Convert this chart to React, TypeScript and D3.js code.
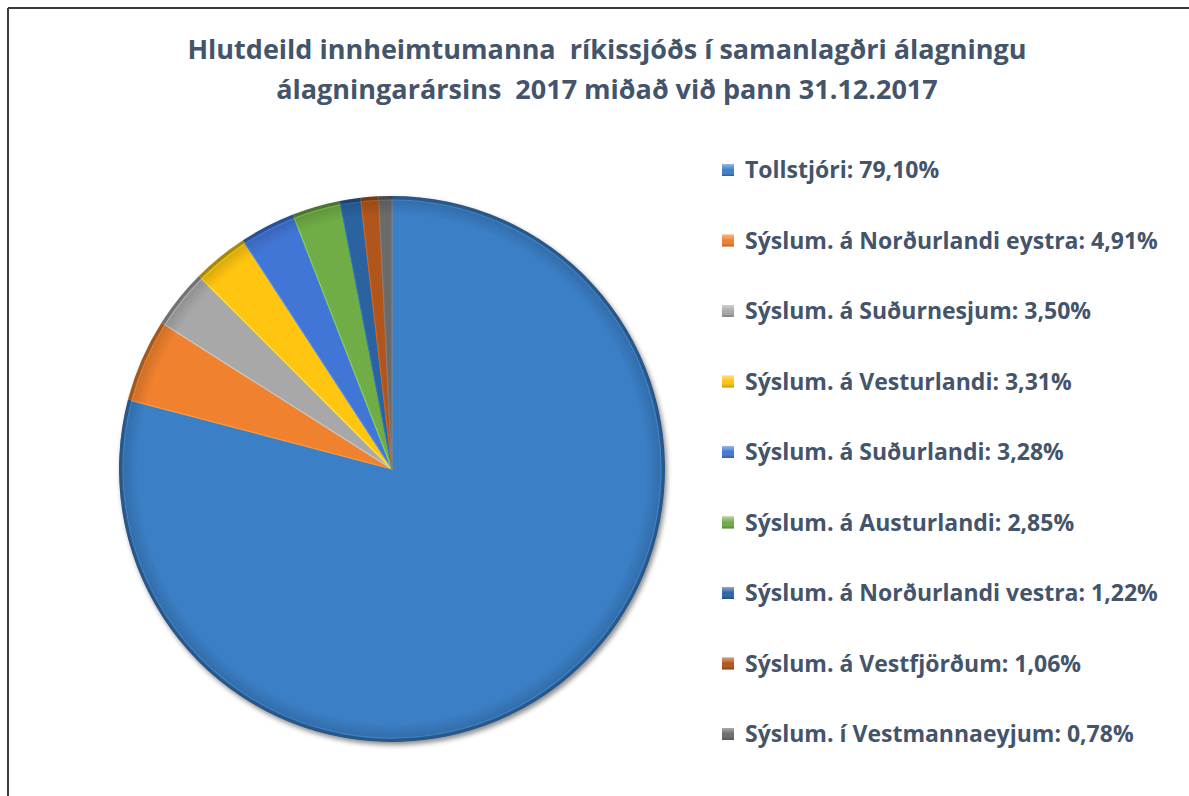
import React from "react";
import * as d3 from "d3";

const categories = [
  "Tollstjóri",
  "Sýslum. á Norðurlandi eystra",
  "Sýslum. á Suðurnesjum",
  "Sýslum. á Vesturlandi",
  "Sýslum. á Suðurlandi",
  "Sýslum. á Austurlandi",
  "Sýslum. á Norðurlandi vestra",
  "Sýslum. á Vestfjörðum",
  "Sýslum. í Vestmannaeyjum",
];
const values = [79.1, 4.91, 3.5, 3.31, 3.28, 2.85, 1.22, 1.06, 0.78];
const colors = [
  "#3b7fc6",
  "#f0812f",
  "#a8a8a8",
  "#ffc510",
  "#4276d6",
  "#70ad47",
  "#2a63a0",
  "#b0551b",
  "#6a6a6a",
];
const titleLines = [
  "Hlutdeild innheimtumanna  ríkissjóðs í samanlagðri álagningu",
  "álagningarársins  2017 miðað við þann 31.12.2017",
];

const W = 1189;
const H = 796;
const cx = 392;
const cy = 469;
const R = 273;

export default function App() {
  const pie = d3
    .pie<number>()
    .sort(null)
    .startAngle(0)
    .endAngle(2 * Math.PI)
    .value((d) => d);
  const arcs = pie(values);
  const arc = d3.arc<d3.PieArcDatum<number>>().innerRadius(0).outerRadius(R);
  const arcInner = d3
    .arc<d3.PieArcDatum<number>>()
    .innerRadius(0)
    .outerRadius(R - 4);
  const fmt = (v: number) => v.toFixed(2).replace(".", ",") + "%";
  const legendY = d3
    .scalePoint<number>()
    .domain(d3.range(categories.length))
    .range([170, 734]);
  const textColor = "#44546a";

  return (
    <svg
      width={W}
      height={H}
      style={{ position: "absolute", left: 0, top: 0, background: "#fff" }}
      fontFamily="'Open Sans', Lato, sans-serif"
    >
      <defs>
        <filter id="shadow" x="-20%" y="-20%" width="140%" height="140%">
          <feDropShadow dx="2" dy="3" stdDeviation="2.5" floodColor="#000" floodOpacity="0.45" />
        </filter>
        <radialGradient id="edge" cx="0.5" cy="0.5" r="0.5">
          <stop offset="0.93" stopColor="#000" stopOpacity="0" />
          <stop offset="1" stopColor="#000" stopOpacity="0.18" />
        </radialGradient>
        <linearGradient id="mk" x1="0" y1="0" x2="0" y2="1">
          <stop offset="0" stopColor="#fff" stopOpacity="0.45" />
          <stop offset="0.5" stopColor="#fff" stopOpacity="0" />
          <stop offset="1" stopColor="#000" stopOpacity="0.25" />
        </linearGradient>
      </defs>
      <rect x={0} y={0} width={W} height={H} fill="#fff" />
      <line x1={8} y1={8} x2={W} y2={8} stroke="#3a3a3a" strokeWidth={2} />
      <line x1={8} y1={8} x2={8} y2={H} stroke="#3a3a3a" strokeWidth={2} />

      {titleLines.map((t, i) => (
        <text
          key={i}
          x={607}
          y={59 + i * 40}
          textAnchor="middle"
          fontSize={27}
          fontWeight="bold"
          fill={textColor}
          style={{ whiteSpace: "pre" }}
        >
          {t}
        </text>
      ))}

      <g transform={`translate(${cx},${cy})`}>
        <g filter="url(#shadow)">
          {arcs.map((a, i) => (
            <path key={i} d={arc(a) || ""} fill={d3.color(colors[i])!.darker(0.6).toString()} />
          ))}
        </g>
        {arcs.map((a, i) => (
          <path
            key={"in" + i}
            d={arcInner(a) || ""}
            fill={colors[i]}
            stroke={d3.color(colors[i])!.brighter(0.5).toString()}
            strokeWidth={1.2}
            strokeLinejoin="round"
          />
        ))}
        <circle r={R} fill="url(#edge)" />
      </g>

      {categories.map((c, i) => {
        const y = legendY(i)!;
        return (
          <g key={c}>
            <rect x={722} y={y - 6} width={12} height={12} fill={colors[i]} />
            <rect x={722} y={y - 6} width={12} height={12} fill="url(#mk)" />
            <text
              x={745}
              y={y}
              dy="0.36em"
              fontSize={23}
              fontWeight="bold"
              fill={textColor}
            >
              {`${c}: ${fmt(values[i])}`}
            </text>
          </g>
        );
      })}
    </svg>
  );
}
